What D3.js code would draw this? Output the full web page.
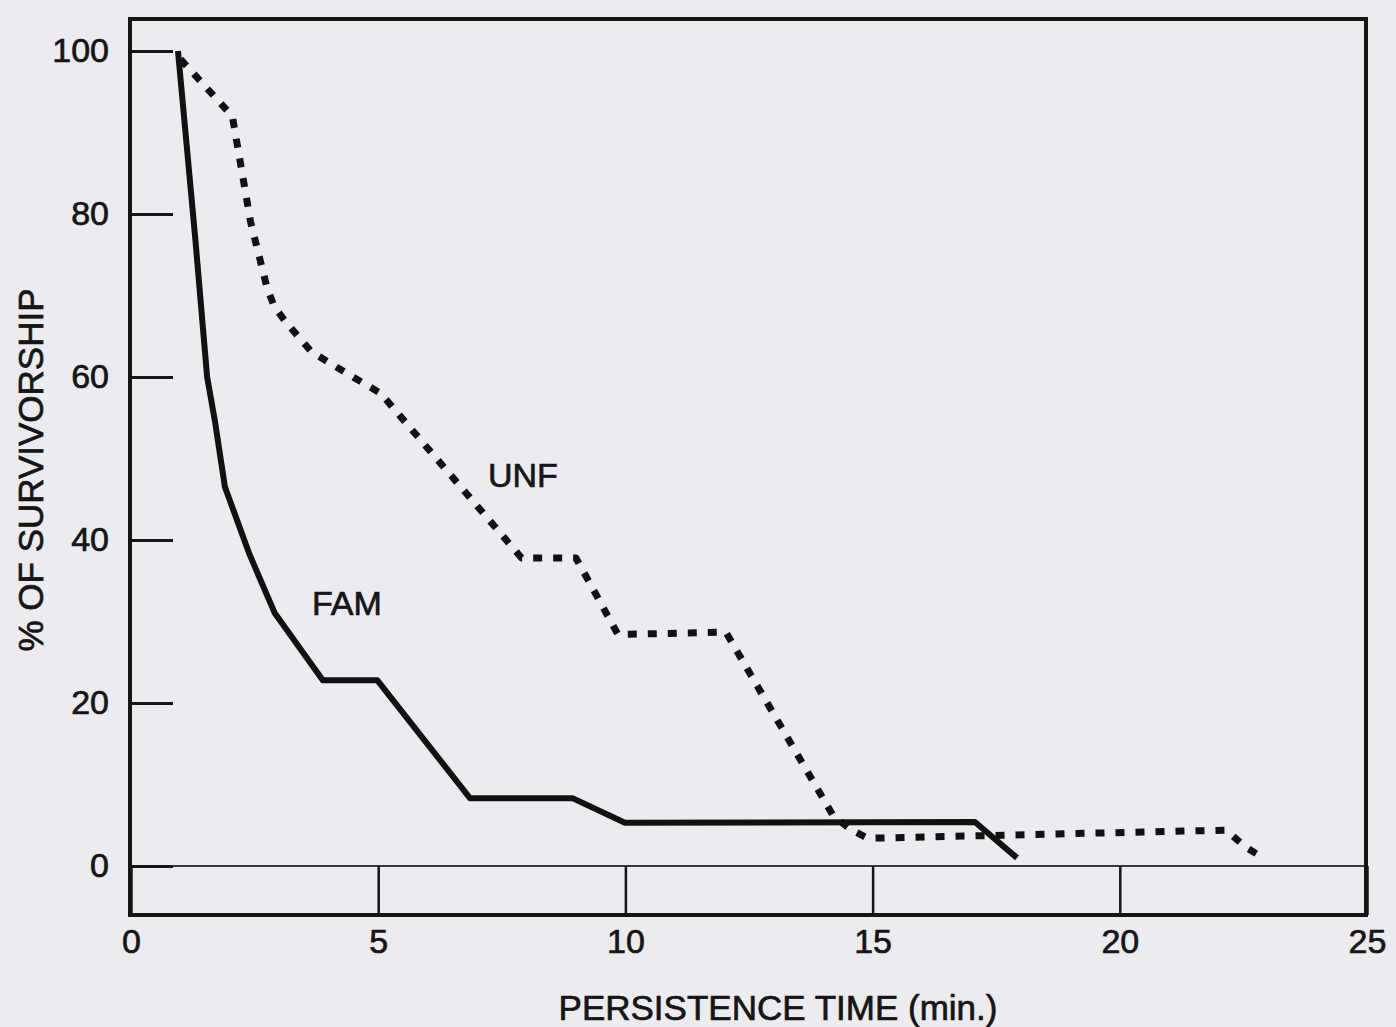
<!DOCTYPE html>
<html>
<head>
<meta charset="utf-8">
<script src="https://cdn.jsdelivr.net/npm/d3@7"></script>
<style>
  html, body { margin: 0; padding: 0; background: #ececf0; }
  svg { display: block; }
  text { font-family: "Liberation Sans", Arial, Helvetica, sans-serif; fill: #151515; stroke: #151515; stroke-width: 0.7px; }
</style>
</head>
<body>
<script>
// survival curves (minutes, % surviving)
const famTime = [0.95, 1.3, 1.54, 1.7, 1.9, 2.4, 2.91, 3.88, 4.98, 6.86, 8.94, 9.99, 17.07, 17.92]
const famPct  = [100, 77, 60, 54.5, 46.5, 38.2, 31.0, 22.8, 22.8, 8.3, 8.3, 5.3, 5.4, 1.0]

const unfTime = [1.0, 2.05, 2.42, 2.75, 2.9, 3.15, 3.65, 4.35, 5.05, 7.9, 9.0, 9.85, 12.03, 14.2, 14.55, 14.9, 22.15, 22.55, 22.9]
const unfPct  = [99, 92, 79, 71, 68.6, 66.6, 63.1, 60.5, 58, 37.8, 37.8, 28.4, 28.7, 6.2, 4.5, 3.4, 4.4, 2.3, 1.0]

const xTicks = [0, 5, 10, 15, 20, 25]
const yTicks = [0, 20, 40, 60, 80, 100]

const W = 1396, H = 1027

const svg = d3.select("body").append("svg")
    .attr("width", W)
    .attr("height", H)

svg.append("rect").attr("width", W).attr("height", H).attr("fill", "#ececf0")

const x = d3.scaleLinear().domain([0, 25]).range([131, 1367])
const y = d3.scaleLinear().domain([0, 100]).range([866, 51])

const frameTop = 19, frameBottom = 915

// zero line across the plot
svg.append("line")
    .attr("x1", x(0)).attr("x2", x(25))
    .attr("y1", y(0)).attr("y2", y(0))
    .attr("stroke", "#3a3a3a")
    .attr("stroke-width", 2)

// y axis, ticks pointing inward
const yAxis = svg.append("g")
    .attr("transform", "translate(" + x(0) + ",0)")
    .call(d3.axisLeft(y).tickValues(yTicks).tickSize(-42).tickPadding(22))
yAxis.select(".domain").remove()
yAxis.selectAll(".tick line").attr("stroke", "#151515").attr("stroke-width", 3)
yAxis.selectAll(".tick text").attr("font-size", 34).attr("fill", "#151515")
    .style("font-family", '"Liberation Sans", Arial, sans-serif')

// x axis on the bottom frame, ticks reach up to the zero line
const xAxis = svg.append("g")
    .attr("transform", "translate(0," + frameBottom + ")")
    .call(d3.axisBottom(x).tickValues(xTicks).tickSize(-(frameBottom - y(0))).tickPadding(14))
xAxis.select(".domain").remove()
xAxis.selectAll(".tick line").attr("stroke", "#151515").attr("stroke-width", 2.5)
xAxis.selectAll(".tick text").attr("font-size", 34).attr("fill", "#151515")
    .style("font-family", '"Liberation Sans", Arial, sans-serif')

// frame
svg.append("rect")
    .attr("x", x(0) - 1).attr("y", frameTop)
    .attr("width", x(25) - x(0)).attr("height", frameBottom - frameTop)
    .attr("fill", "none")
    .attr("stroke", "#151515")
    .attr("stroke-width", 4)

const line = d3.line()
    .x(d => x(d[0]))
    .y(d => y(d[1]))

const fam = d3.zip(famTime, famPct)
const unf = d3.zip(unfTime, unfPct)

svg.append("path")
    .datum(unf)
    .attr("d", line)
    .attr("fill", "none")
    .attr("stroke", "#111")
    .attr("stroke-width", 7)
    .attr("stroke-dasharray", "9 11")
    .attr("stroke-linejoin", "round")

svg.append("path")
    .datum(fam)
    .attr("d", line)
    .attr("fill", "none")
    .attr("stroke", "#111")
    .attr("stroke-width", 6)
    .attr("stroke-linejoin", "round")

// curve labels
svg.append("text")
    .attr("x", x(7.22)).attr("y", y(46.5))
    .attr("font-size", 34)
    .text("UNF")

svg.append("text")
    .attr("x", x(3.66)).attr("y", y(30.8))
    .attr("font-size", 34)
    .text("FAM")

// axis titles
svg.append("text")
    .attr("x", 778).attr("y", 1020)
    .attr("text-anchor", "middle")
    .attr("font-size", 35)
    .text("PERSISTENCE TIME (min.)")

svg.append("text")
    .attr("transform", "translate(43,470) rotate(-90)")
    .attr("text-anchor", "middle")
    .attr("font-size", 35)
    .text("% OF SURVIVORSHIP")
</script>
</body>
</html>
